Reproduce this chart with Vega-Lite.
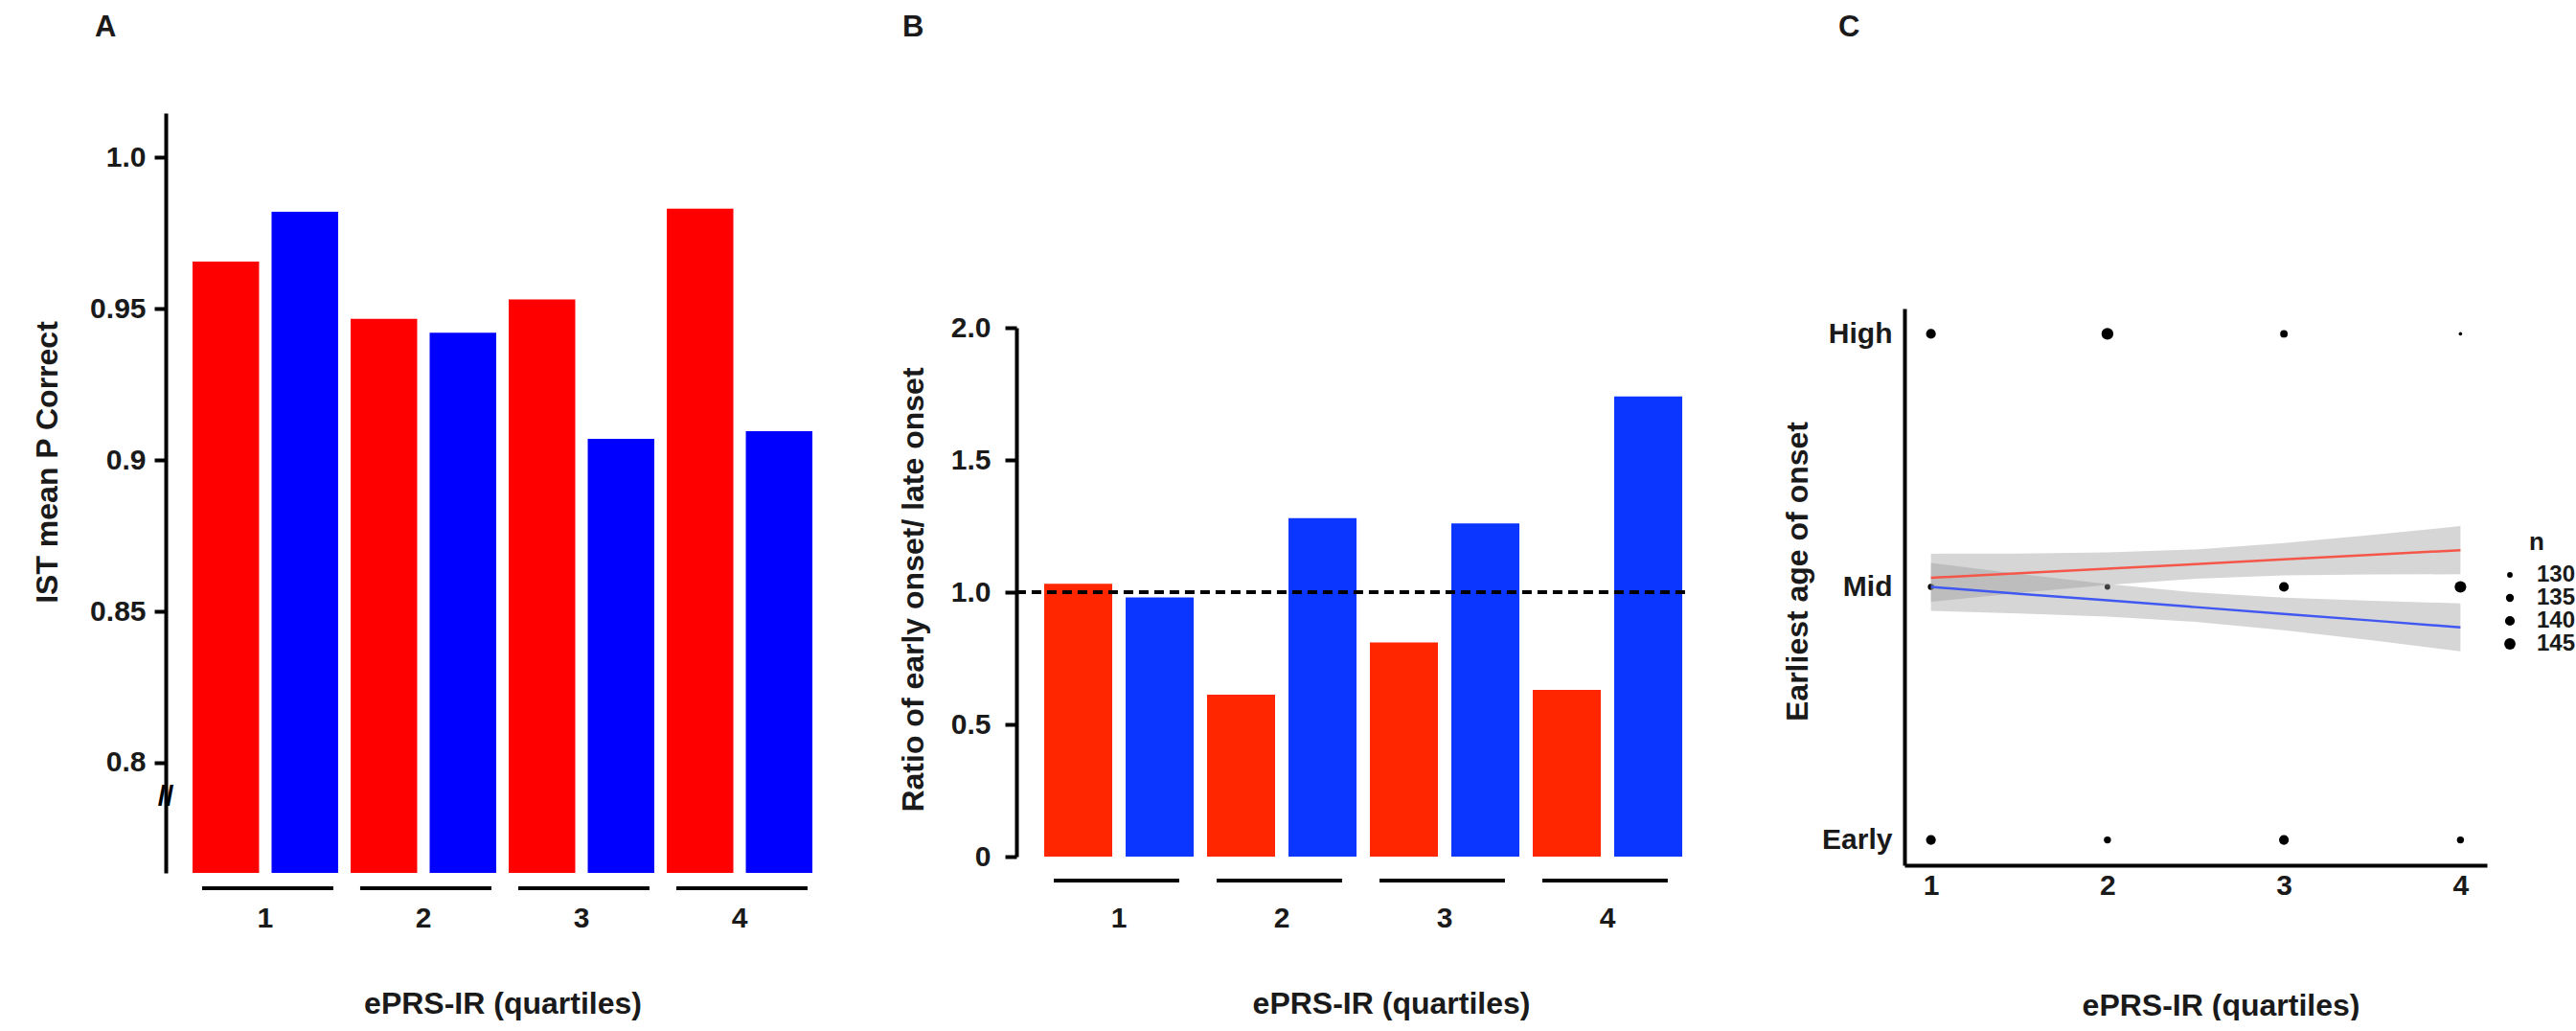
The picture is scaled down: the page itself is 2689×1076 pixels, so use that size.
{
  "$schema": "https://vega.github.io/schema/vega-lite/v6.json",
  "background": "white",
  "padding": {"left": 33, "top": 13, "right": 0, "bottom": 0},
  "spacing": 185,
  "bounds": "flush",
  "resolve": {"scale": {"color": "independent", "x": "independent", "y": "independent", "xOffset": "independent", "size": "independent"}},
  "config": {
    "font": "Liberation Sans",
    "view": {"stroke": null},
    "axis": {
      "labelFont": "Liberation Sans", "titleFont": "Liberation Sans",
      "labelFontWeight": "bold", "titleFontWeight": "bold",
      "labelFontSize": 30, "titleFontSize": 32,
      "labelColor": "#1a1a1a", "titleColor": "#1a1a1a",
      "grid": false, "domainColor": "black", "domainWidth": 4,
      "tickColor": "black", "tickWidth": 4
    },
    "title": {"font": "Liberation Sans", "fontSize": 31, "fontWeight": "bold", "color": "#1a1a1a", "anchor": "start", "frame": "group", "baseline": "alphabetic", "offset": 73}
  },
  "hconcat": [
    {
      "width": 703, "height": 793,
      "title": {"text": "A", "dx": -74},
      "data": {"values": [
        {"quartile": "1", "group": "red", "value": 0.9655},
        {"quartile": "1", "group": "blue", "value": 0.982},
        {"quartile": "2", "group": "red", "value": 0.9466},
        {"quartile": "2", "group": "blue", "value": 0.942},
        {"quartile": "3", "group": "red", "value": 0.953},
        {"quartile": "3", "group": "blue", "value": 0.907},
        {"quartile": "4", "group": "red", "value": 0.983},
        {"quartile": "4", "group": "blue", "value": 0.9095}
      ]},
      "layer": [
        {
          "mark": {"type": "bar"},
          "encoding": {
            "x": {"field": "quartile", "type": "nominal", "scale": {"paddingInner": 0, "paddingOuter": 0.13},
              "axis": {"title": "ePRS-IR (quartiles)", "labelAngle": 0, "domain": false, "ticks": false, "labelPadding": 32, "titlePadding": 59}},
            "xOffset": {"field": "group", "type": "nominal", "sort": ["red", "blue"], "scale": {"paddingInner": 0.158, "paddingOuter": 0.079}},
            "y": {"field": "value", "type": "quantitative", "scale": {"domain": [0.7636, 1.0146], "zero": false, "nice": false},
              "axis": {"title": "IST mean P Correct", "values": [0.8, 0.85, 0.9, 0.95, 1.0], "format": ".2~f", "labelExpr": "datum.value == 1 ? '1.0' : datum.label", "tickSize": 12, "labelPadding": 9, "titlePadding": 27, "titleY": 364}},
            "y2": {"datum": 0.7636},
            "color": {"field": "group", "type": "nominal", "scale": {"domain": ["red", "blue"], "range": ["#FF0000", "#0000FF"]}, "legend": null}
          }
        },
        {
          "transform": [{"filter": "datum.group == 'red'"}],
          "mark": {"type": "rule", "strokeWidth": 4, "color": "black"},
          "encoding": {
            "x": {"field": "quartile", "type": "nominal", "bandPosition": 0.1},
            "x2": {"field": "quartile", "bandPosition": 0.93},
            "y": {"datum": 0.7585, "type": "quantitative"}
          }
        },
        {
          "data": {"values": [{}]},
          "mark": {"type": "text", "text": "//", "fontSize": 30, "fontWeight": "bold", "color": "black"},
          "encoding": {
            "x": {"datum": "1", "type": "nominal", "bandPosition": -0.13},
            "y": {"datum": 0.7886, "type": "quantitative"}
          }
        }
      ]
    },
    {
      "width": 742, "height": 793,
      "title": {"text": "B", "dx": -119},
      "data": {"values": [
        {"quartile": "1", "group": "red", "value": 1.032},
        {"quartile": "1", "group": "blue", "value": 0.98},
        {"quartile": "2", "group": "red", "value": 0.612},
        {"quartile": "2", "group": "blue", "value": 1.28},
        {"quartile": "3", "group": "red", "value": 0.81},
        {"quartile": "3", "group": "blue", "value": 1.26},
        {"quartile": "4", "group": "red", "value": 0.63},
        {"quartile": "4", "group": "blue", "value": 1.74}
      ]},
      "layer": [
        {
          "mark": {"type": "bar"},
          "encoding": {
            "x": {"field": "quartile", "type": "nominal", "scale": {"paddingInner": 0, "paddingOuter": 0.1824, "align": 0.355},
              "axis": {"title": "ePRS-IR (quartiles)", "labelAngle": 0, "domain": false, "ticks": false, "labelPadding": 32, "titlePadding": 59, "titleX": 391}},
            "xOffset": {"field": "group", "type": "nominal", "sort": ["red", "blue"], "scale": {"paddingInner": 0.165, "paddingOuter": 0.082}},
            "y": {"field": "value", "type": "quantitative", "scale": {"domain": [0, 2], "range": [776, 224], "nice": false},
              "axis": {"title": "Ratio of early onset/ late onset", "values": [0, 0.5, 1, 1.5, 2], "labelExpr": "datum.value == 0 ? '0' : format(datum.value, '.1f')", "tickSize": 12, "labelPadding": 15, "titlePadding": 22, "titleY": 497}},
            "y2": {"datum": 0},
            "color": {"field": "group", "type": "nominal", "scale": {"domain": ["red", "blue"], "range": ["#FF2600", "#0A36FF"]}, "legend": null}
          }
        },
        {
          "data": {"values": [{}]},
          "mark": {"type": "rule", "strokeWidth": 4, "strokeDash": [10, 6], "color": "black"},
          "encoding": {
            "x": {"datum": "1", "type": "nominal", "bandPosition": -0.13},
            "x2": {"datum": "4", "bandPosition": 1},
            "y": {"datum": 1, "type": "quantitative"}
          }
        },
        {
          "transform": [{"filter": "datum.group == 'red'"}],
          "mark": {"type": "rule", "strokeWidth": 4, "color": "black"},
          "encoding": {
            "x": {"field": "quartile", "type": "nominal", "bandPosition": 0.1},
            "x2": {"field": "quartile", "bandPosition": 0.87},
            "y": {"datum": -0.0906, "type": "quantitative"}
          }
        }
      ]
    },
    {
      "width": 608, "height": 793,
      "title": {"text": "C", "dx": -69},
      "layer": [
        {
          "data": {"values": [
            {"quartile": 1, "onset": 3, "n": 140},
            {"quartile": 2, "onset": 3, "n": 147},
            {"quartile": 3, "onset": 3, "n": 134},
            {"quartile": 4, "onset": 3, "n": 127},
            {"quartile": 1, "onset": 2, "n": 131},
            {"quartile": 2, "onset": 2, "n": 130},
            {"quartile": 3, "onset": 2, "n": 140},
            {"quartile": 4, "onset": 2, "n": 146},
            {"quartile": 1, "onset": 1, "n": 140},
            {"quartile": 2, "onset": 1, "n": 133},
            {"quartile": 3, "onset": 1, "n": 140},
            {"quartile": 4, "onset": 1, "n": 133}
          ]},
          "mark": {"type": "circle", "opacity": 1, "color": "black"},
          "encoding": {
            "x": {"field": "quartile", "type": "quantitative", "scale": {"domain": [0.85, 4.15], "nice": false, "zero": false},
              "axis": {"title": "ePRS-IR (quartiles)", "values": [1, 2, 3, 4], "format": "d", "ticks": false, "labelPadding": 6, "offset": -8, "titlePadding": 95, "titleX": 330}},
            "y": {"field": "onset", "type": "quantitative", "scale": {"domain": [0.9, 3.1], "range": [785, 204], "nice": false, "zero": false},
              "axis": {"title": "Earliest age of onset", "values": [1, 2, 3], "labelExpr": "datum.value == 1 ? 'Early' : datum.value == 2 ? 'Mid' : 'High'", "ticks": false, "labelPadding": 13, "titlePadding": 8, "titleY": 478}},
            "size": {"field": "n", "type": "quantitative", "scale": {"domain": [126, 148], "range": [6, 160]},
              "legend": {"title": "n", "orient": "none", "legendX": 620, "legendY": 435, "values": [130, 135, 140, 145],
                "labelFont": "Liberation Sans", "titleFont": "Liberation Sans", "labelFontSize": 24, "titleFontSize": 26,
                "labelFontWeight": "bold", "titleFontWeight": "bold", "labelColor": "#1a1a1a", "titleColor": "#1a1a1a",
                "symbolFillColor": "black", "symbolStrokeColor": "black", "symbolOpacity": 1, "rowPadding": 0, "labelOffset": 16,
                "titleAnchor": "middle", "titlePadding": 9}}
          }
        },
        {
          "data": {"name": "fits"},
          "mark": {"type": "area", "color": "#999999", "opacity": 0.4},
          "encoding": {
            "x": {"field": "x", "type": "quantitative"},
            "y": {"field": "lo", "type": "quantitative"},
            "y2": {"field": "hi"},
            "detail": {"field": "series", "type": "nominal"}
          }
        },
        {
          "data": {"name": "fits"},
          "mark": {"type": "line", "strokeWidth": 2.5},
          "encoding": {
            "x": {"field": "x", "type": "quantitative"},
            "y": {"field": "fit", "type": "quantitative"},
            "color": {"field": "series", "type": "nominal", "scale": {"domain": ["red", "blue"], "range": ["#F5564A", "#4057F2"]}, "legend": null}
          }
        }
      ]
    }
  ],
  "datasets": {
    "fits": [
      {"series": "red", "x": 1, "fit": 2.036, "lo": 1.941, "hi": 2.131},
      {"series": "red", "x": 1.5, "fit": 2.054, "lo": 1.976, "hi": 2.132},
      {"series": "red", "x": 2, "fit": 2.072, "lo": 2.008, "hi": 2.136},
      {"series": "red", "x": 2.5, "fit": 2.09, "lo": 2.032, "hi": 2.148},
      {"series": "red", "x": 3, "fit": 2.109, "lo": 2.045, "hi": 2.173},
      {"series": "red", "x": 3.5, "fit": 2.127, "lo": 2.049, "hi": 2.205},
      {"series": "red", "x": 4, "fit": 2.145, "lo": 2.05, "hi": 2.24},
      {"series": "blue", "x": 1, "fit": 2.0, "lo": 1.905, "hi": 2.095},
      {"series": "blue", "x": 1.5, "fit": 1.973, "lo": 1.895, "hi": 2.051},
      {"series": "blue", "x": 2, "fit": 1.947, "lo": 1.883, "hi": 2.011},
      {"series": "blue", "x": 2.5, "fit": 1.92, "lo": 1.862, "hi": 1.978},
      {"series": "blue", "x": 3, "fit": 1.893, "lo": 1.829, "hi": 1.957},
      {"series": "blue", "x": 3.5, "fit": 1.867, "lo": 1.789, "hi": 1.945},
      {"series": "blue", "x": 4, "fit": 1.84, "lo": 1.745, "hi": 1.935}
    ]
  }
}
